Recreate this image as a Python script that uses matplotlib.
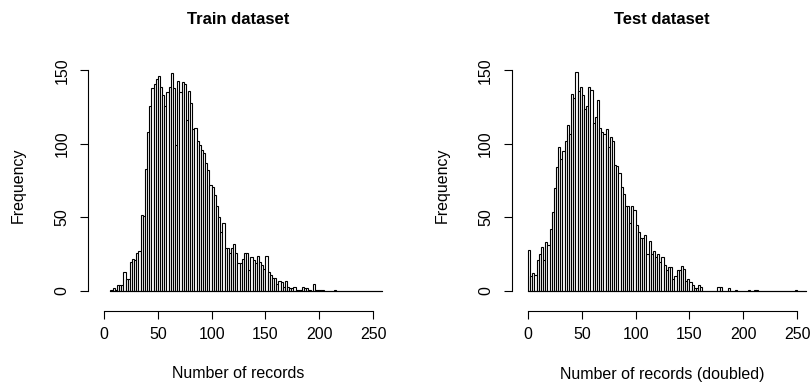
import numpy as np
import matplotlib
matplotlib.use("Agg")
import matplotlib.pyplot as plt

# ── Data: histogram counts (bin width 2) ──
BIN_WIDTH = 2
LAST_BREAK = 258

train_start = 6
train_counts = [
    1, 2, 1, 4, 4, 4, 13, 8, 8, 20,
    22, 21, 26, 27, 52, 51, 83, 108, 126, 138,
    141, 144, 146, 139, 133, 126, 135, 139, 148, 138,
    99, 143, 135, 142, 141, 116, 136, 128, 110, 111,
    102, 99, 96, 94, 87, 82, 72,
    71, 65, 58, 50, 40, 46, 29, 29, 26, 29,
    32, 26, 19, 19, 22, 26, 26, 14, 23, 21,
    19, 24, 20,
    18, 15, 24, 13, 11, 9, 9, 5, 7, 6,
    3, 7, 3, 2, 2, 3, 1, 1, 1, 3,
    2, 2, 1, 0, 5, 1, 1, 1, 1, 0,
    0, 0, 0, 0, 1,
]

test_start = 0
test_counts = [
    28, 10, 12, 11, 21, 25, 30, 21, 33, 31,
    42, 54, 70, 84, 98, 90, 95, 102, 113, 107,
    134, 131, 149, 136, 139, 133, 124, 126, 139, 137,
    114, 118, 130, 111, 108, 107, 110, 98, 105, 102,
    86, 85, 80, 71, 66, 58, 58, 46, 58, 55,
    45, 40, 36, 36, 38, 25, 34, 25, 27, 23,
    25, 20, 23, 18, 14, 16, 16, 8, 10, 14,
    14, 17, 15, 7, 8, 6, 4, 2, 2, 4,
    3, 0, 0, 0, 0, 0, 0, 0, 3, 3,
    0, 0, 0, 2, 0, 0, 1, 0, 0, 0,
    0, 0, 1, 0, 0, 1, 1, 0, 0, 0,
    0, 0, 0, 0, 0, 0, 0, 0, 0, 0,
    0, 0, 0, 0, 1,
]

titles = ["Train dataset", "Test dataset"]
xlabels = ["Number of records", "Number of records (doubled)"]
xticks = [0, 50, 100, 150, 200, 250]
yticks = [0, 50, 100, 150]

FONT = "Liberation Sans"
plt.rcParams["font.family"] = [FONT, "DejaVu Sans"]

W, H = 812, 385
fig = plt.figure(figsize=(W / 100, H / 100), dpi=100)


def px_axes(left, right, top, bottom):
    return fig.add_axes([left / W, 1 - bottom / H, (right - left) / W, (bottom - top) / H])


def draw_hist(ax, start, counts):
    counts = list(counts)
    n_bins = (LAST_BREAK - start) // BIN_WIDTH
    counts = counts + [0] * (n_bins - len(counts))
    lefts = start + BIN_WIDTH * np.arange(len(counts))
    ax.bar(lefts, counts, width=BIN_WIDTH, align="edge",
           facecolor="white", edgecolor="black", linewidth=0.8)
    ax.plot([lefts[0], lefts[-1] + BIN_WIDTH], [0, 0], color="black", linewidth=0.8)


panels = [(88, 388, train_start, train_counts), (512, 812, test_start, test_counts)]
for i, (left, right, start, counts) in enumerate(panels):
    ax = px_axes(left, right, 60, 311)
    draw_hist(ax, start, counts)
    ax.set_xlim(-14.9, 263.9)
    ax.set_ylim(-13.6, 157.1)
    for s in ["top", "right"]:
        ax.spines[s].set_visible(False)
    ax.spines["left"].set_bounds(0, 150)
    ax.spines["bottom"].set_bounds(0, 250)
    ax.spines["left"].set_linewidth(0.8)
    ax.spines["bottom"].set_linewidth(0.8)
    ax.set_xticks(xticks)
    ax.set_yticks(yticks)
    ax.tick_params(axis="both", direction="out", length=5.5, width=0.8,
                   labelsize=11.5, color="black")
    ax.tick_params(axis="x", pad=6)
    ax.tick_params(axis="y", pad=8)
    for lab in ax.get_yticklabels():
        lab.set_rotation(90)
        lab.set_va("center")
    cx = (left + right) / 2
    fig.text(cx / W, 1 - 20 / H, titles[i], ha="center", va="center",
             fontsize=12, fontweight="bold")
    fig.text(cx / W, 1 - 374 / H, xlabels[i], ha="center", va="center", fontsize=11.5)
    fig.text((left - 70) / W, 1 - 185 / H, "Frequency", ha="center", va="center",
             rotation=90, fontsize=11.5)

fig.savefig("out.png", dpi=100)
